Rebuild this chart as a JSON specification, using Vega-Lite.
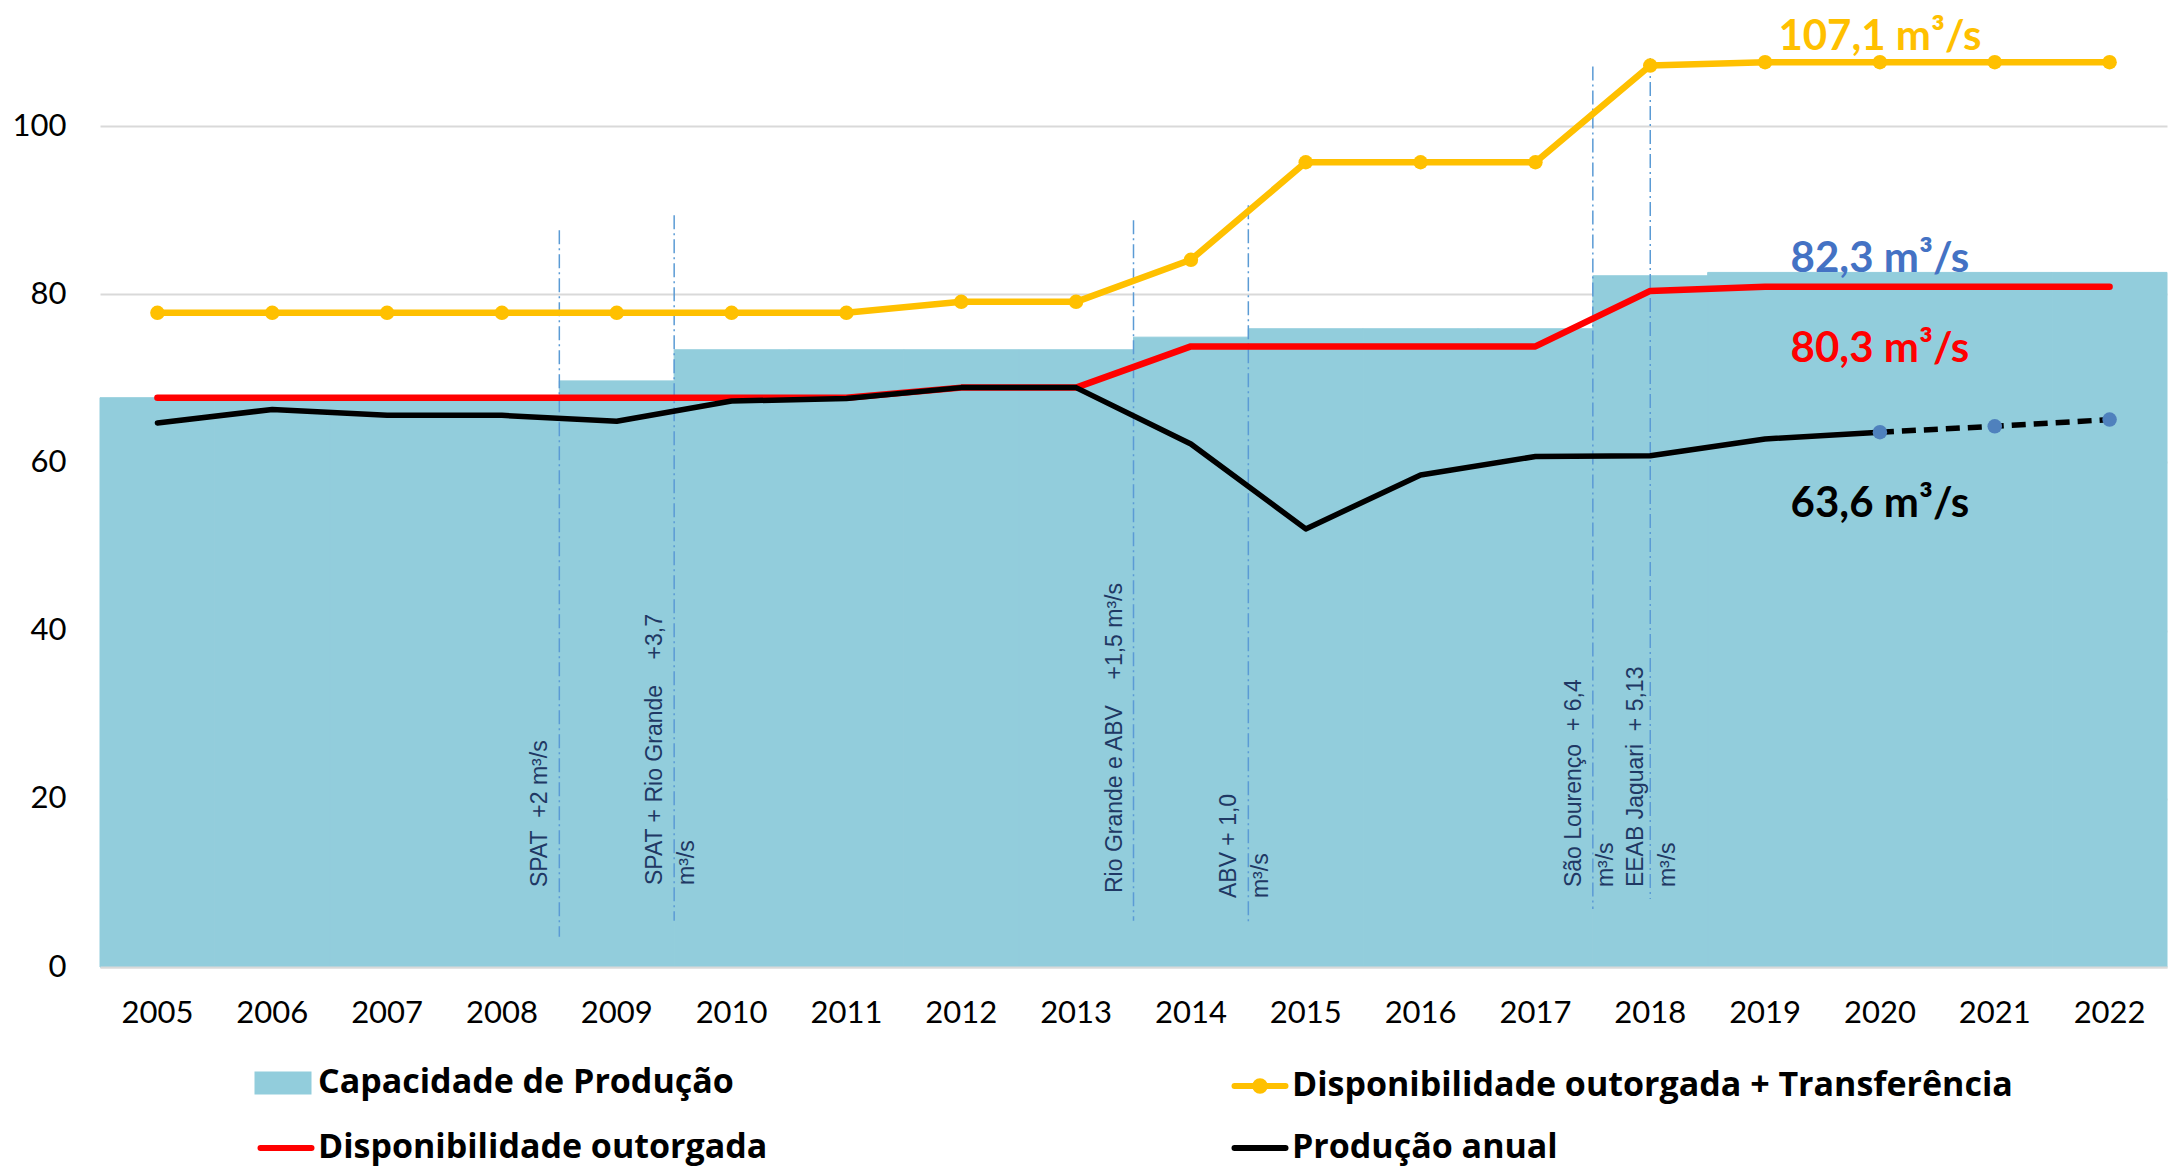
{
  "$schema": "https://vega.github.io/schema/vega-lite/v6.json",
  "width": 2067,
  "height": 925,
  "autosize": {"type": "none"},
  "padding": {"left": 100, "top": 42, "right": 10, "bottom": 200},
  "background": "white",
  "config": {"view": {"stroke": null}, "font": "Lato"},
  "resolve": {"legend": {"color": "independent"}},
  "datasets": {
    "series": [
      {"ano": "2005", "serie": "Capacidade de Produção", "valor": 67.7},
      {"ano": "2006", "serie": "Capacidade de Produção", "valor": 67.7},
      {"ano": "2007", "serie": "Capacidade de Produção", "valor": 67.7},
      {"ano": "2008", "serie": "Capacidade de Produção", "valor": 67.7},
      {"ano": "2009", "serie": "Capacidade de Produção", "valor": 69.7},
      {"ano": "2010", "serie": "Capacidade de Produção", "valor": 73.4},
      {"ano": "2011", "serie": "Capacidade de Produção", "valor": 73.4},
      {"ano": "2012", "serie": "Capacidade de Produção", "valor": 73.4},
      {"ano": "2013", "serie": "Capacidade de Produção", "valor": 73.4},
      {"ano": "2014", "serie": "Capacidade de Produção", "valor": 74.9},
      {"ano": "2015", "serie": "Capacidade de Produção", "valor": 75.9},
      {"ano": "2016", "serie": "Capacidade de Produção", "valor": 75.9},
      {"ano": "2017", "serie": "Capacidade de Produção", "valor": 75.9},
      {"ano": "2018", "serie": "Capacidade de Produção", "valor": 82.2},
      {"ano": "2019", "serie": "Capacidade de Produção", "valor": 82.6},
      {"ano": "2020", "serie": "Capacidade de Produção", "valor": 82.6},
      {"ano": "2021", "serie": "Capacidade de Produção", "valor": 82.6},
      {"ano": "2022", "serie": "Capacidade de Produção", "valor": 82.6},
      {"ano": "2005", "serie": "Disponibilidade outorgada + Transferência", "valor": 77.8},
      {"ano": "2006", "serie": "Disponibilidade outorgada + Transferência", "valor": 77.8},
      {"ano": "2007", "serie": "Disponibilidade outorgada + Transferência", "valor": 77.8},
      {"ano": "2008", "serie": "Disponibilidade outorgada + Transferência", "valor": 77.8},
      {"ano": "2009", "serie": "Disponibilidade outorgada + Transferência", "valor": 77.8},
      {"ano": "2010", "serie": "Disponibilidade outorgada + Transferência", "valor": 77.8},
      {"ano": "2011", "serie": "Disponibilidade outorgada + Transferência", "valor": 77.8},
      {"ano": "2012", "serie": "Disponibilidade outorgada + Transferência", "valor": 79.1},
      {"ano": "2013", "serie": "Disponibilidade outorgada + Transferência", "valor": 79.1},
      {"ano": "2014", "serie": "Disponibilidade outorgada + Transferência", "valor": 84.1},
      {"ano": "2015", "serie": "Disponibilidade outorgada + Transferência", "valor": 95.7},
      {"ano": "2016", "serie": "Disponibilidade outorgada + Transferência", "valor": 95.7},
      {"ano": "2017", "serie": "Disponibilidade outorgada + Transferência", "valor": 95.7},
      {"ano": "2018", "serie": "Disponibilidade outorgada + Transferência", "valor": 107.2},
      {"ano": "2019", "serie": "Disponibilidade outorgada + Transferência", "valor": 107.6},
      {"ano": "2020", "serie": "Disponibilidade outorgada + Transferência", "valor": 107.6},
      {"ano": "2021", "serie": "Disponibilidade outorgada + Transferência", "valor": 107.6},
      {"ano": "2022", "serie": "Disponibilidade outorgada + Transferência", "valor": 107.6},
      {"ano": "2005", "serie": "Disponibilidade outorgada", "valor": 67.7},
      {"ano": "2006", "serie": "Disponibilidade outorgada", "valor": 67.7},
      {"ano": "2007", "serie": "Disponibilidade outorgada", "valor": 67.7},
      {"ano": "2008", "serie": "Disponibilidade outorgada", "valor": 67.7},
      {"ano": "2009", "serie": "Disponibilidade outorgada", "valor": 67.7},
      {"ano": "2010", "serie": "Disponibilidade outorgada", "valor": 67.7},
      {"ano": "2011", "serie": "Disponibilidade outorgada", "valor": 67.7},
      {"ano": "2012", "serie": "Disponibilidade outorgada", "valor": 68.9},
      {"ano": "2013", "serie": "Disponibilidade outorgada", "valor": 68.9},
      {"ano": "2014", "serie": "Disponibilidade outorgada", "valor": 73.8},
      {"ano": "2015", "serie": "Disponibilidade outorgada", "valor": 73.8},
      {"ano": "2016", "serie": "Disponibilidade outorgada", "valor": 73.8},
      {"ano": "2017", "serie": "Disponibilidade outorgada", "valor": 73.8},
      {"ano": "2018", "serie": "Disponibilidade outorgada", "valor": 80.4},
      {"ano": "2019", "serie": "Disponibilidade outorgada", "valor": 80.9},
      {"ano": "2020", "serie": "Disponibilidade outorgada", "valor": 80.9},
      {"ano": "2021", "serie": "Disponibilidade outorgada", "valor": 80.9},
      {"ano": "2022", "serie": "Disponibilidade outorgada", "valor": 80.9},
      {"ano": "2005", "serie": "Produção anual", "trecho": "realizado", "valor": 64.7},
      {"ano": "2006", "serie": "Produção anual", "trecho": "realizado", "valor": 66.3},
      {"ano": "2007", "serie": "Produção anual", "trecho": "realizado", "valor": 65.6},
      {"ano": "2008", "serie": "Produção anual", "trecho": "realizado", "valor": 65.6},
      {"ano": "2009", "serie": "Produção anual", "trecho": "realizado", "valor": 64.9},
      {"ano": "2010", "serie": "Produção anual", "trecho": "realizado", "valor": 67.3},
      {"ano": "2011", "serie": "Produção anual", "trecho": "realizado", "valor": 67.6},
      {"ano": "2012", "serie": "Produção anual", "trecho": "realizado", "valor": 68.9},
      {"ano": "2013", "serie": "Produção anual", "trecho": "realizado", "valor": 68.9},
      {"ano": "2014", "serie": "Produção anual", "trecho": "realizado", "valor": 62.2},
      {"ano": "2015", "serie": "Produção anual", "trecho": "realizado", "valor": 52.1},
      {"ano": "2016", "serie": "Produção anual", "trecho": "realizado", "valor": 58.5},
      {"ano": "2017", "serie": "Produção anual", "trecho": "realizado", "valor": 60.7},
      {"ano": "2018", "serie": "Produção anual", "trecho": "realizado", "valor": 60.8},
      {"ano": "2019", "serie": "Produção anual", "trecho": "realizado", "valor": 62.8},
      {"ano": "2020", "serie": "Produção anual", "trecho": "realizado", "valor": 63.6},
      {"ano": "2020", "serie": "Produção anual", "trecho": "projeção", "valor": 63.6},
      {"ano": "2021", "serie": "Produção anual", "trecho": "projeção", "valor": 64.3},
      {"ano": "2022", "serie": "Produção anual", "trecho": "projeção", "valor": 65.1}
    ],
    "marcos": [
      {"ano": "2009", "tipo": "ampliação", "topo": 87.6, "base": 3.6, "inicio_texto": 9.5, "texto": "SPAT\u00a0\u00a0+2 m³/s"},
      {"ano": "2010", "tipo": "ampliação", "topo": 89.4, "base": 5.5, "inicio_texto": 9.75, "texto": "SPAT + Rio Grande\u00a0\u00a0\u00a0\u00a0+3,7\nm³/s"},
      {"ano": "2014", "tipo": "ampliação", "topo": 88.8, "base": 5.5, "inicio_texto": 8.8, "texto": "Rio Grande e ABV\u00a0\u00a0\u00a0\u00a0+1,5 m³/s"},
      {"ano": "2015", "tipo": "ampliação", "topo": 90.6, "base": 5.2, "inicio_texto": 8.2, "texto": "ABV + 1,0\nm³/s"},
      {"ano": "2018", "tipo": "ampliação", "topo": 107.1, "base": 6.9, "inicio_texto": 9.5, "texto": "São Lourenço\u00a0\u00a0+ 6,4\nm³/s"},
      {"ano": "2018", "tipo": "transferência", "topo": 108.1, "base": 8.1, "inicio_texto": 9.5, "texto": "EEAB Jaguari\u00a0\u00a0+ 5,13\nm³/s"}
    ],
    "rotulos": [
      {"ano": "2020", "serie": "Disponibilidade outorgada + Transferência", "valor": 109.0, "texto": "107,1 m³/s"},
      {"ano": "2020", "serie": "Capacidade de Produção", "valor": 82.6, "texto": "82,3 m³/s"},
      {"ano": "2020", "serie": "Disponibilidade outorgada", "valor": 71.9, "texto": "80,3 m³/s"},
      {"ano": "2020", "serie": "Produção anual", "valor": 53.5, "texto": "63,6 m³/s"}
    ]
  },
  "layer": [
    {
      "data": {"name": "series"},
      "transform": [{"filter": "datum.serie === 'Capacidade de Produção'"}],
      "mark": {"type": "bar", "stroke": "#92CDDC", "strokeWidth": 1},
      "encoding": {
        "x": {
          "field": "ano", "type": "ordinal", "title": null,
          "scale": {"type": "band", "paddingInner": 0, "paddingOuter": 0},
          "axis": {"labelFont": "Lato", "labelFontSize": 31, "labelColor": "#000000", "labelAngle": 0, "labelPadding": 31, "ticks": false, "tickSize": 0, "domainColor": "#D9D9D9", "domainWidth": 2, "grid": false, "zindex": 1}
        },
        "y": {
          "field": "valor", "type": "quantitative", "title": null,
          "scale": {"domain": [0, 110], "nice": false},
          "axis": {"values": [0, 20, 40, 60, 80, 100], "labelFont": "Lato", "labelFontSize": 31, "labelColor": "#000000", "labelPadding": 34, "ticks": false, "tickSize": 0, "domain": false, "grid": true, "gridColor": "#D9D9D9", "gridWidth": 2}
        },
        "color": {
          "field": "serie", "type": "nominal",
          "scale": {
            "domain": ["Capacidade de Produção", "Disponibilidade outorgada + Transferência", "Disponibilidade outorgada", "Produção anual"],
            "range": ["#92CDDC", "#FFC000", "#FF0000", "#000000"]
          },
          "legend": {
            "values": ["Capacidade de Produção"], "title": null, "orient": "none", "legendX": 153, "legendY": 1011, "padding": 0,
            "symbolType": "M-0.95,-0.38H0.95V0.38H-0.95Z", "symbolSize": 3600, "symbolStrokeWidth": 0,
            "labelFont": "Open Sans", "labelFontSize": 34, "labelFontWeight": "bold", "labelColor": "#000000", "labelLimit": 0, "labelOffset": 5,
            "encode": {"symbols": {"update": {"fill": {"value": "#92CDDC"}, "stroke": {"value": "transparent"}, "strokeWidth": {"value": 0}, "opacity": {"value": 1}, "fillOpacity": {"value": 1}}}}
          }
        }
      }
    },
    {
      "data": {"name": "marcos"},
      "transform": [{"filter": "datum.tipo === 'ampliação'"}],
      "mark": {"type": "rule", "color": "#5B9BD5", "strokeWidth": 1.5, "strokeDash": [14, 4, 2, 4]},
      "encoding": {
        "x": {"field": "ano", "type": "ordinal", "bandPosition": 0},
        "y": {"field": "topo", "type": "quantitative"},
        "y2": {"field": "base"}
      }
    },
    {
      "data": {"name": "marcos"},
      "transform": [{"filter": "datum.tipo === 'transferência'"}],
      "mark": {"type": "rule", "color": "#5B9BD5", "strokeWidth": 1.5, "strokeDash": [14, 4, 2, 4]},
      "encoding": {
        "x": {"field": "ano", "type": "ordinal", "bandPosition": 0.5},
        "y": {"field": "topo", "type": "quantitative"},
        "y2": {"field": "base"}
      }
    },
    {
      "data": {"name": "marcos"},
      "transform": [{"filter": "datum.tipo === 'ampliação'"}],
      "mark": {"type": "text", "angle": 270, "align": "left", "baseline": "alphabetic", "dy": -12, "font": "Liberation Sans", "fontSize": 23, "lineHeight": 32, "lineBreak": "\n", "color": "#1F3864"},
      "encoding": {
        "x": {"field": "ano", "type": "ordinal", "bandPosition": 0},
        "y": {"field": "inicio_texto", "type": "quantitative"},
        "text": {"field": "texto"}
      }
    },
    {
      "data": {"name": "marcos"},
      "transform": [{"filter": "datum.tipo === 'transferência'"}],
      "mark": {"type": "text", "angle": 270, "align": "left", "baseline": "alphabetic", "dy": -7, "font": "Liberation Sans", "fontSize": 23, "lineHeight": 32, "lineBreak": "\n", "color": "#1F3864"},
      "encoding": {
        "x": {"field": "ano", "type": "ordinal", "bandPosition": 0.5},
        "y": {"field": "inicio_texto", "type": "quantitative"},
        "text": {"field": "texto"}
      }
    },
    {
      "data": {"name": "series"},
      "transform": [{"filter": "datum.serie === 'Disponibilidade outorgada'"}],
      "mark": {"type": "line", "strokeWidth": 6.5, "strokeCap": "round", "strokeJoin": "round"},
      "encoding": {
        "x": {"field": "ano", "type": "ordinal"},
        "y": {"field": "valor", "type": "quantitative"},
        "color": {
          "field": "serie", "type": "nominal",
          "legend": {
            "values": ["Disponibilidade outorgada"], "title": null, "orient": "none", "legendX": 153, "legendY": 1073, "padding": 0,
            "symbolType": "M-0.85,0H0.85", "symbolSize": 3600, "symbolStrokeWidth": 6,
            "labelFont": "Open Sans", "labelFontSize": 34, "labelFontWeight": "bold", "labelColor": "#000000", "labelLimit": 0, "labelOffset": -1,
            "encode": {"symbols": {"update": {"fill": {"value": "transparent"}, "stroke": {"value": "#FF0000"}, "strokeWidth": {"value": 6}, "strokeCap": {"value": "round"}, "opacity": {"value": 1}, "strokeOpacity": {"value": 1}}}}
          }
        }
      }
    },
    {
      "data": {"name": "series"},
      "transform": [{"filter": "datum.serie === 'Disponibilidade outorgada + Transferência'"}],
      "mark": {"type": "line", "strokeWidth": 6.5, "strokeCap": "round", "strokeJoin": "round", "point": {"filled": true, "size": 210, "color": "#FFC000", "opacity": 1}},
      "encoding": {
        "x": {"field": "ano", "type": "ordinal"},
        "y": {"field": "valor", "type": "quantitative"},
        "color": {
          "field": "serie", "type": "nominal",
          "legend": {
            "values": ["Disponibilidade outorgada + Transferência"], "title": null, "orient": "none", "legendX": 1127, "legendY": 1011, "padding": 0,
            "symbolType": "M-0.85,0H0.85M0.16,0A0.16,0.16,0,1,0,-0.16,0A0.16,0.16,0,1,0,0.16,0Z", "symbolSize": 3600, "symbolStrokeWidth": 6,
            "labelFont": "Open Sans", "labelFontSize": 34, "labelFontWeight": "bold", "labelColor": "#000000", "labelLimit": 0, "labelOffset": -1,
            "encode": {"symbols": {"update": {"fill": {"value": "#FFC000"}, "stroke": {"value": "#FFC000"}, "strokeWidth": {"value": 6}, "strokeCap": {"value": "round"}, "opacity": {"value": 1}, "fillOpacity": {"value": 1}, "strokeOpacity": {"value": 1}}}}
          }
        }
      }
    },
    {
      "data": {"name": "series"},
      "transform": [{"filter": "datum.serie === 'Produção anual' && datum.trecho === 'realizado'"}],
      "mark": {"type": "line", "strokeWidth": 5.5, "strokeCap": "round", "strokeJoin": "round"},
      "encoding": {
        "x": {"field": "ano", "type": "ordinal"},
        "y": {"field": "valor", "type": "quantitative"},
        "color": {
          "field": "serie", "type": "nominal",
          "legend": {
            "values": ["Produção anual"], "title": null, "orient": "none", "legendX": 1127, "legendY": 1073, "padding": 0,
            "symbolType": "M-0.85,0H0.85", "symbolSize": 3600, "symbolStrokeWidth": 6,
            "labelFont": "Open Sans", "labelFontSize": 34, "labelFontWeight": "bold", "labelColor": "#000000", "labelLimit": 0, "labelOffset": -1,
            "encode": {"symbols": {"update": {"fill": {"value": "transparent"}, "stroke": {"value": "#000000"}, "strokeWidth": {"value": 6}, "strokeCap": {"value": "round"}, "opacity": {"value": 1}, "strokeOpacity": {"value": 1}}}}
          }
        }
      }
    },
    {
      "data": {"name": "series"},
      "transform": [{"filter": "datum.serie === 'Produção anual' && datum.trecho === 'projeção'"}],
      "mark": {"type": "line", "strokeWidth": 5.5, "strokeDash": [14, 8], "strokeCap": "butt"},
      "encoding": {
        "x": {"field": "ano", "type": "ordinal"},
        "y": {"field": "valor", "type": "quantitative"},
        "color": {"field": "serie", "type": "nominal", "legend": null}
      }
    },
    {
      "data": {"name": "series"},
      "transform": [{"filter": "datum.serie === 'Produção anual' && datum.trecho === 'projeção'"}],
      "mark": {"type": "point", "filled": true, "size": 210, "color": "#4F81BD", "opacity": 1},
      "encoding": {
        "x": {"field": "ano", "type": "ordinal"},
        "y": {"field": "valor", "type": "quantitative"}
      }
    },
    {
      "data": {"name": "rotulos"},
      "mark": {"type": "text", "align": "center", "baseline": "alphabetic", "font": "Lato", "fontSize": 42, "fontWeight": "bold"},
      "encoding": {
        "x": {"field": "ano", "type": "ordinal"},
        "y": {"field": "valor", "type": "quantitative"},
        "text": {"field": "texto"},
        "fill": {
          "field": "serie", "type": "nominal", "legend": null,
          "scale": {
            "domain": ["Disponibilidade outorgada + Transferência", "Capacidade de Produção", "Disponibilidade outorgada", "Produção anual"],
            "range": ["#FFC000", "#4472C4", "#FF0000", "#000000"]
          }
        }
      }
    }
  ]
}
